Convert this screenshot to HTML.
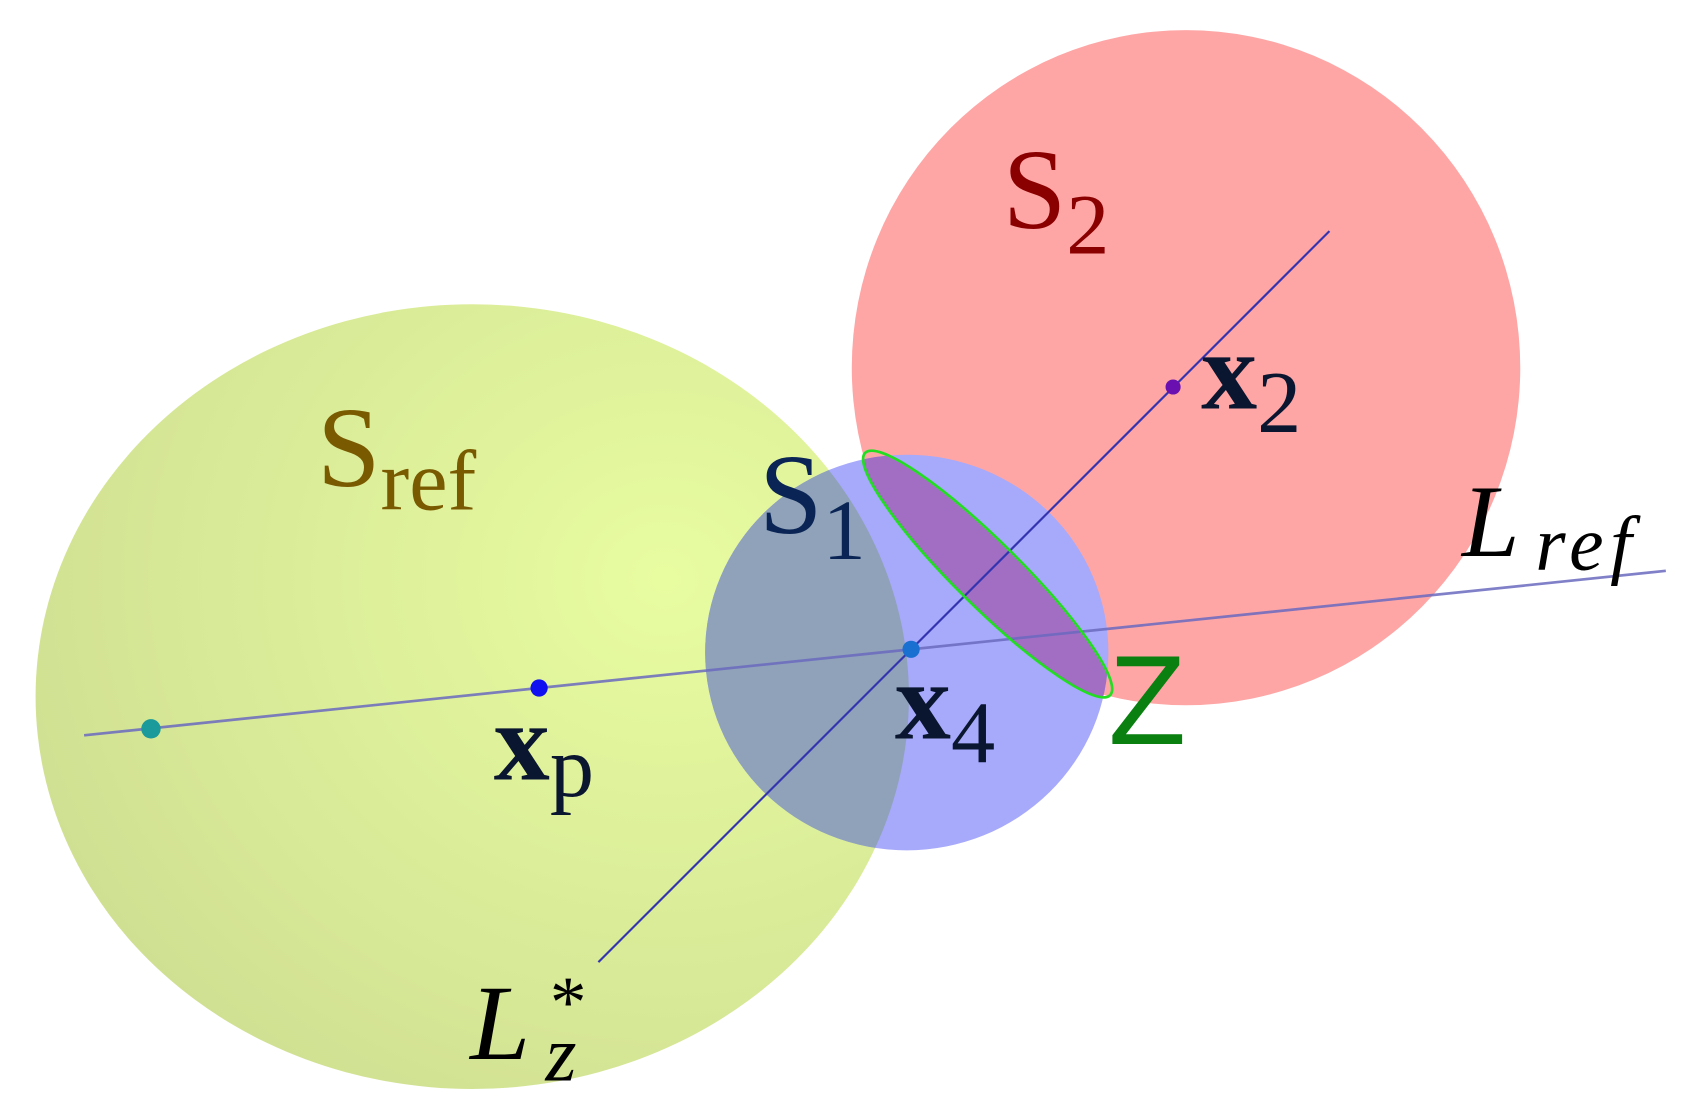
<!DOCTYPE html>
<html><head><meta charset="utf-8"><style>
html,body{margin:0;padding:0;background:#fff;}
svg{display:block;}
</style></head><body>
<svg width="1682" height="1118" viewBox="0 0 1560 1040" preserveAspectRatio="none" xmlns="http://www.w3.org/2000/svg">
<defs>
<radialGradient id="yg" cx="0.72" cy="0.35" r="0.8">
<stop offset="0" stop-color="#e8fca0"/><stop offset="1" stop-color="#cfdf92"/>
</radialGradient>
<clipPath id="cb"><ellipse cx="841" cy="607" rx="187" ry="184"/></clipPath>
</defs>
<ellipse cx="1100" cy="342" rx="310" ry="314" fill="#fea6a5"/>
<ellipse cx="438" cy="648" rx="405" ry="365" fill="url(#yg)"/>
<ellipse cx="841" cy="607" rx="187" ry="184" fill="#a7a9fb"/>
<g clip-path="url(#cb)">
<ellipse cx="438" cy="648" rx="405" ry="365" fill="#8fa2b9"/>
<ellipse cx="916" cy="534" rx="160" ry="30" transform="rotate(44.8 916 534)" fill="#a26ec4"/>
</g>
<line x1="78" y1="684" x2="1545" y2="531" stroke="#6b6ac0" stroke-width="2.5" opacity="0.85"/>
<line x1="555" y1="895" x2="1233" y2="215" stroke="#3434b0" stroke-width="2"/>
<ellipse cx="916" cy="534" rx="160" ry="30" transform="rotate(44.8 916 534)" fill="none" stroke="#22dd22" stroke-width="2.5"/>
<circle cx="140" cy="678" r="9" fill="#1a9a9a"/>
<circle cx="500" cy="640" r="8" fill="#1010f0"/>
<circle cx="845" cy="604" r="8" fill="#1a70d0"/>
<circle cx="1088" cy="360" r="7" fill="#6a10b0"/>
<g font-family="Liberation Serif, serif">
<text x="294" y="452" font-size="106" fill="#7a5a00">S<tspan font-size="80" dy="22">ref</tspan></text>
<text x="930" y="212" font-size="106" fill="#8a0000">S<tspan font-size="80" dy="24">2</tspan></text>
<text x="704" y="496" font-size="106" fill="#0a2555">S<tspan font-size="80" dy="24">1</tspan></text>
<text x="1114" y="380" font-size="104" font-weight="bold" fill="#0a1530">x<tspan font-size="82" font-weight="normal" dy="22">2</tspan></text>
<text x="830" y="687" font-size="104" font-weight="bold" fill="#0a1530">x<tspan font-size="82" font-weight="normal" dy="22">4</tspan></text>
<text x="458" y="725" font-size="104" font-weight="bold" fill="#0a1530">x<tspan font-size="82" font-weight="normal" dy="16">p</tspan></text>
<text x="1356" y="517" font-size="96" font-style="italic" fill="#000">L</text>
<text x="1424" y="530" font-size="72" font-style="italic" letter-spacing="6" fill="#000">ref</text>
<text x="436" y="985" font-size="100" font-style="italic" fill="#000">L</text>
<text x="510" y="955" font-size="68" fill="#000">*</text>
<text x="506" y="1005" font-size="74" font-style="italic" fill="#000">z</text>
<text x="1028" y="692" font-size="118" font-family="Liberation Sans, sans-serif" fill="#0a8010">Z</text>
</g>
</svg>
</body></html>
